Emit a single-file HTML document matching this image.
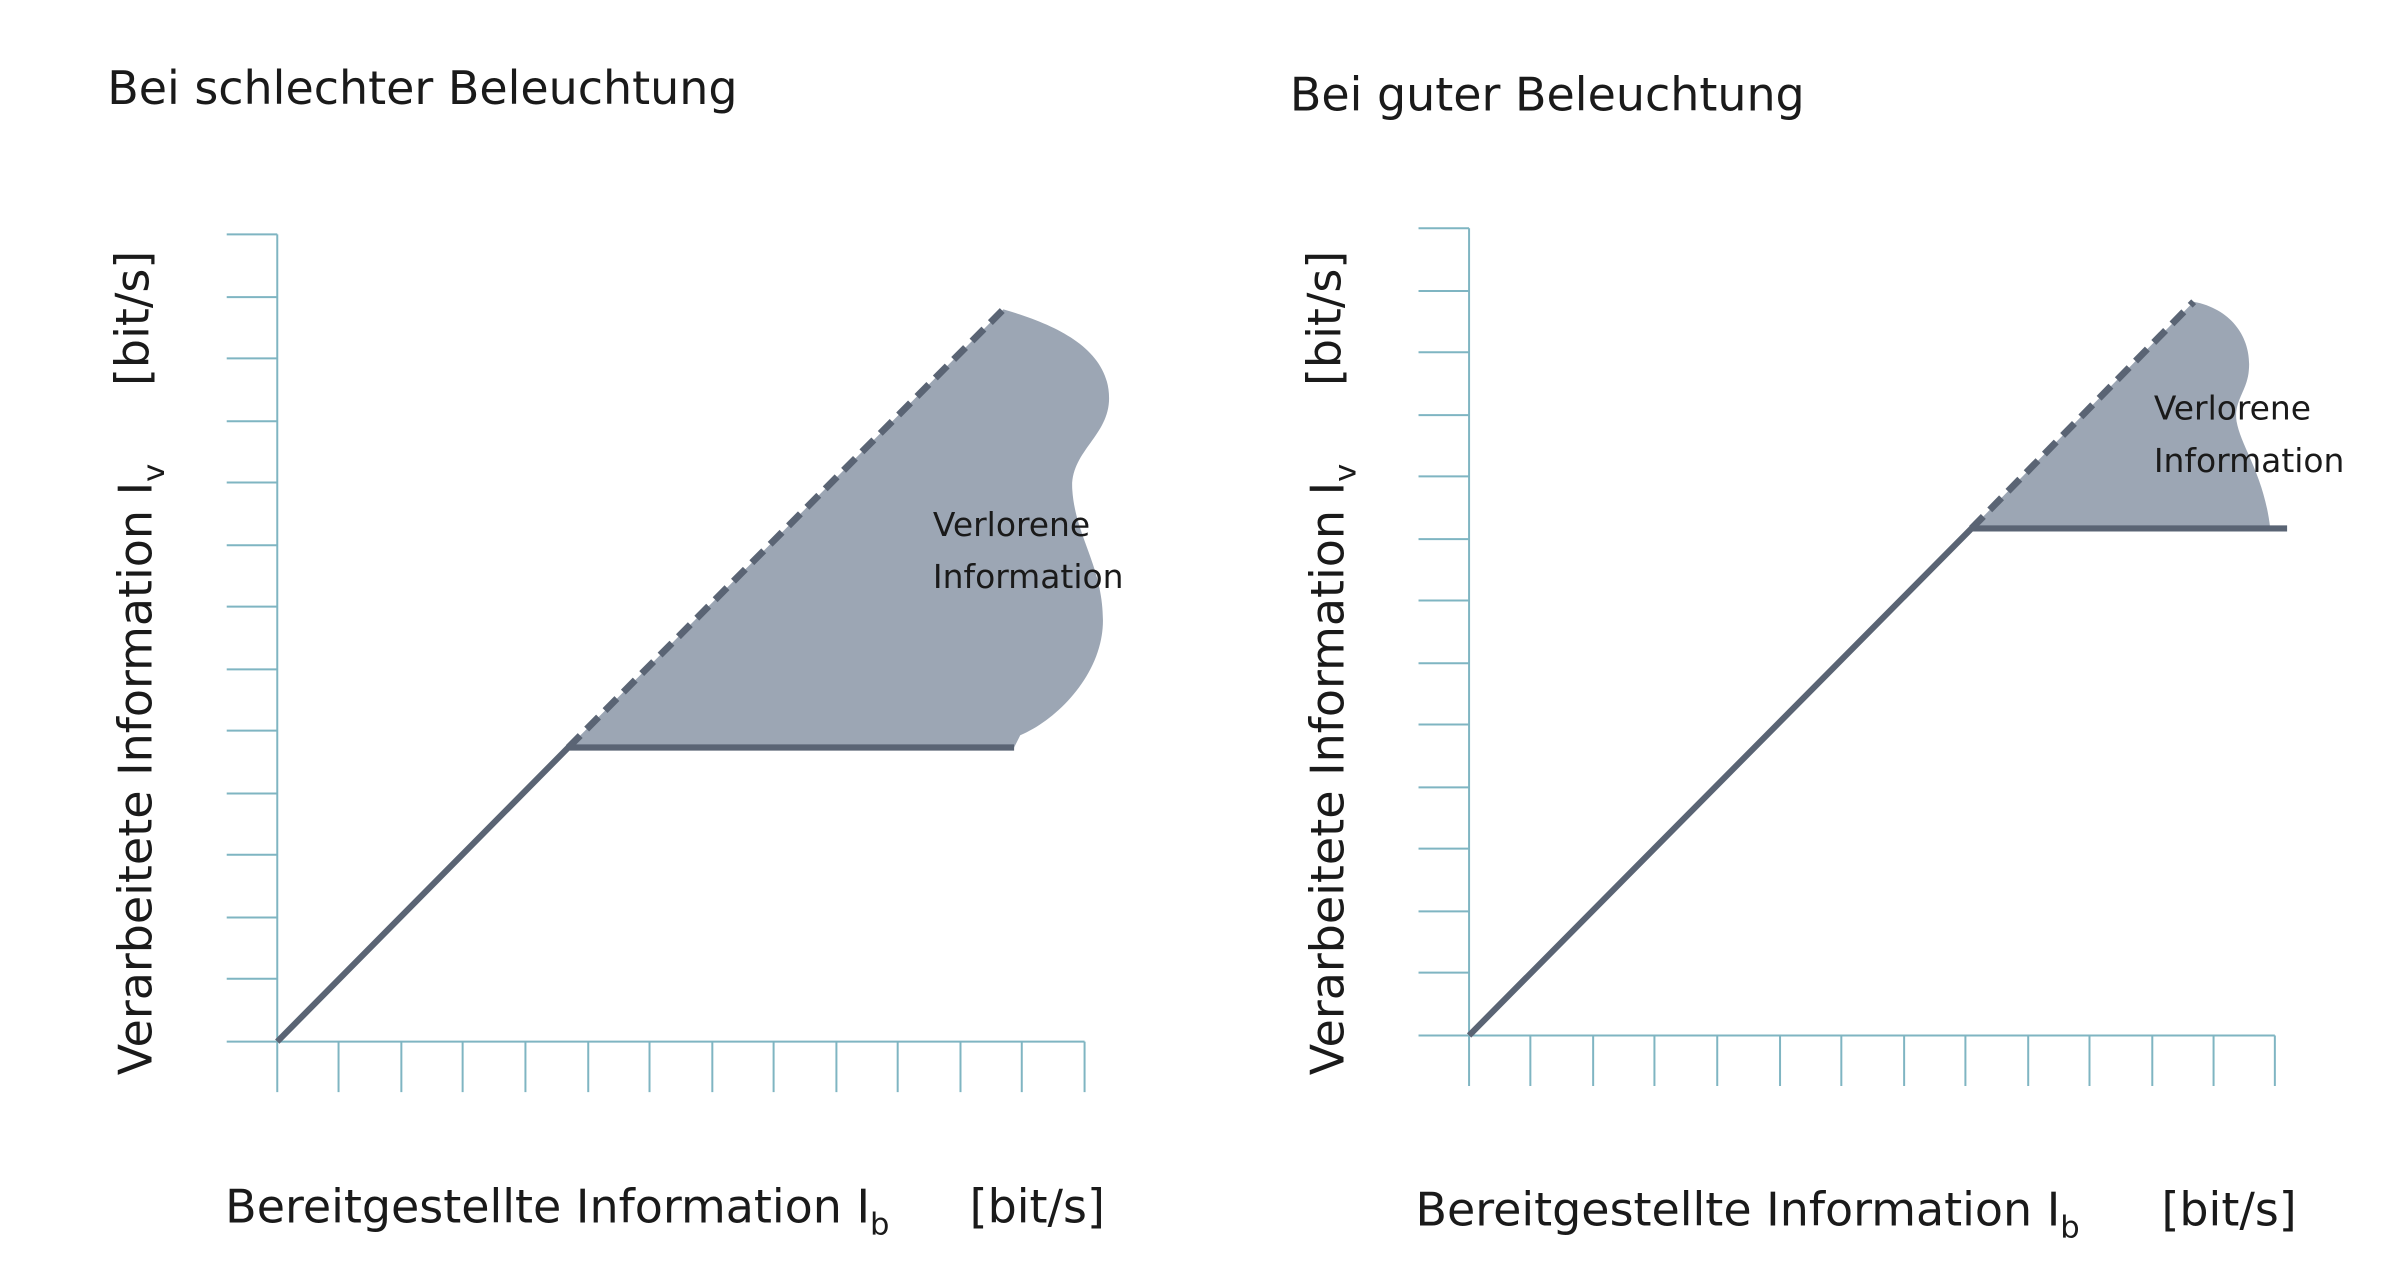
<!DOCTYPE html>
<html><head><meta charset="utf-8"><style>
html,body{margin:0;padding:0;background:#fff;}
svg{display:block;}
text{font-family:"DejaVu Sans","Liberation Sans",sans-serif;fill:#1a1a1a;}
</style></head><body>
<svg width="2400" height="1266" viewBox="0 0 1566.7 826.5" preserveAspectRatio="none" xmlns="http://www.w3.org/2000/svg">
<rect width="1566.7" height="826.5" fill="#fff"/>
<!-- LEFT -->
<text x="70" y="68" font-size="30">Bei schlechter Beleuchtung</text>
<g stroke="#7fb5c2" stroke-width="1.3" fill="none">
<line x1="181" y1="153" x2="181" y2="713"/>
<line x1="148" y1="680" x2="708" y2="680"/>
<path d="M148 153H181M148 194H181M148 234H181M148 275H181M148 315H181M148 356H181M148 396H181M148 437H181M148 477H181M148 518H181M148 558H181M148 599H181M148 639H181"/>
<path d="M221 680V713M262 680V713M302 680V713M343 680V713M384 680V713M424 680V713M465 680V713M505 680V713M546 680V713M586 680V713M627 680V713M667 680V713M708 680V713"/>
</g>
<path d="M371 488 L655 202 C690 212 724 228 724 260 C724 285 698 295 700 320 C702 350 720 370 720 405 C720 440 690 470 666 480 L662 488 Z" fill="#9ca6b4"/>
<line x1="371" y1="488" x2="655" y2="202" stroke="#5a6474" stroke-width="4.5" stroke-dasharray="11 6"/>
<polyline points="181,680 371,488 662,488" fill="none" stroke="#5a6474" stroke-width="4"/>
<text x="609" y="350" font-size="21.5">Verlorene</text>
<text x="609" y="384" font-size="21.5">Information</text>
<g transform="translate(99,702) rotate(-90)">
<text x="0" y="0" font-size="30">Verarbeitete Information I<tspan font-size="20" dy="8">v</tspan></text>
<text x="450" y="-2" font-size="30">[bit/s]</text>
</g>
<text x="147" y="798" font-size="30">Bereitgestellte Information I<tspan font-size="20" dy="8">b</tspan></text>
<text x="633" y="798" font-size="30">[bit/s]</text>
<!-- RIGHT -->
<text x="842" y="72" font-size="30">Bei guter Beleuchtung</text>
<g stroke="#7fb5c2" stroke-width="1.3" fill="none">
<line x1="959" y1="149" x2="959" y2="709"/>
<line x1="926" y1="676" x2="1485" y2="676"/>
<path d="M926 149H959M926 190H959M926 230H959M926 271H959M926 311H959M926 352H959M926 392H959M926 433H959M926 473H959M926 514H959M926 554H959M926 595H959M926 635H959"/>
<path d="M999 676V709M1040 676V709M1080 676V709M1121 676V709M1162 676V709M1202 676V709M1243 676V709M1283 676V709M1324 676V709M1364 676V709M1405 676V709M1445 676V709M1485 676V709"/>
</g>
<path d="M1287 345 L1432 197 C1458 202 1470 222 1468 242 C1467 255 1458 262 1460 275 C1463 292 1478 310 1482 345 Z" fill="#9ca6b4"/>
<line x1="1287" y1="345" x2="1432" y2="197" stroke="#5a6474" stroke-width="4.5" stroke-dasharray="11 6"/>
<polyline points="959,676 1287,345 1493,345" fill="none" stroke="#5a6474" stroke-width="4"/>
<text x="1406" y="274" font-size="21.5">Verlorene</text>
<text x="1406" y="308" font-size="21.5">Information</text>
<g transform="translate(877,702) rotate(-90)">
<text x="0" y="0" font-size="30">Verarbeitete Information I<tspan font-size="20" dy="8">v</tspan></text>
<text x="450" y="-2" font-size="30">[bit/s]</text>
</g>
<text x="924" y="800" font-size="30">Bereitgestellte Information I<tspan font-size="20" dy="8">b</tspan></text>
<text x="1411" y="800" font-size="30">[bit/s]</text>
</svg>
</body></html>
